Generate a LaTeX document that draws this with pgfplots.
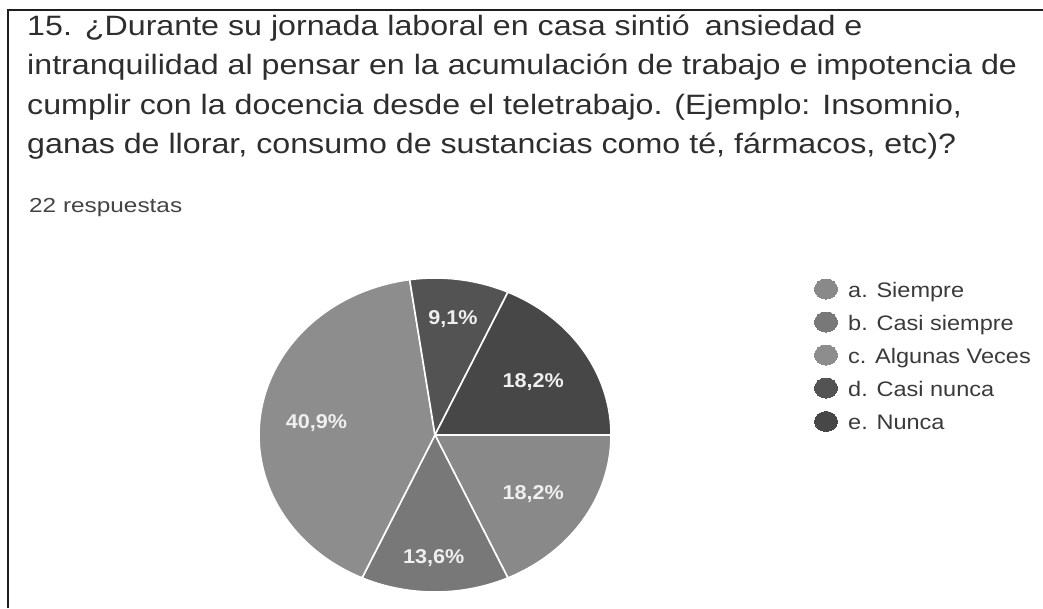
\documentclass[border=0pt]{standalone}
\usepackage{fontspec}
\setmainfont{Liberation Sans}[FakeStretch=1.12]
\newfontfamily\titlefont{Liberation Sans}[FakeStretch=1.15]
\newfontfamily\subfont{Liberation Sans}[FakeStretch=1.2]
\newfontfamily\labfont{Liberation Sans}[FakeStretch=1.08]
\usepackage{pgfplots}
\pgfplotsset{compat=1.18}
\definecolor{ca}{HTML}{898989}
\definecolor{cb}{HTML}{787878}
\definecolor{cc}{HTML}{8D8D8D}
\definecolor{cd}{HTML}{535353}
\definecolor{ce}{HTML}{474747}
\definecolor{titlecol}{HTML}{2E2E2E}
\definecolor{subcol}{HTML}{444444}
\definecolor{legcol}{HTML}{3A3A3A}
\definecolor{labcol}{HTML}{EFEFEF}
\definecolor{framecol}{HTML}{1E1E1E}
% percentages of the five answers (22 respuestas)
\def\pa{18.2}\def\pb{13.6}\def\pc{40.9}\def\pd{9.1}\def\pe{18.2}
\pgfmathsetmacro\aa{3.6*\pa}
\pgfmathsetmacro\ab{3.6*(\pa+\pb)}
\pgfmathsetmacro\ac{3.6*(\pa+\pb+\pc)}
\pgfmathsetmacro\ad{3.6*(\pa+\pb+\pc+\pd)}
\pgfmathsetmacro\ae{3.6*(\pa+\pb+\pc+\pd+\pe)}
\begin{document}
\begin{tikzpicture}
\begin{axis}[
  width=1043pt, height=608pt, scale only axis, hide axis,
  xmin=0, xmax=1043, ymin=0, ymax=608, y dir=reverse, clip=false,
  slice/.style={draw=white, line width=1.6pt, samples=80},
  legmark/.style={only marks, color=#1, mark=*, mark size=10pt, mark options={xscale=1.15, draw=#1, fill=#1, line width=0pt}},
]
\addplot[slice, fill=ca, domain=-\aa:0] ({435+176*cos(x)},{435-157*sin(x)}) -- (axis cs:435,435) -- cycle;
\addplot[slice, fill=cb, domain=-\ab:-\aa] ({435+176*cos(x)},{435-157*sin(x)}) -- (axis cs:435,435) -- cycle;
\addplot[slice, fill=cc, domain=-\ac:-\ab] ({435+176*cos(x)},{435-157*sin(x)}) -- (axis cs:435,435) -- cycle;
\addplot[slice, fill=cd, domain=-\ad:-\ac] ({435+176*cos(x)},{435-157*sin(x)}) -- (axis cs:435,435) -- cycle;
\addplot[slice, fill=ce, domain=-\ae:-\ad] ({435+176*cos(x)},{435-157*sin(x)}) -- (axis cs:435,435) -- cycle;
% legend markers
\addplot[legmark=ca] coordinates {(826,289)};
\addplot[legmark=cb] coordinates {(826,322)};
\addplot[legmark=cc] coordinates {(826,355)};
\addplot[legmark=cd] coordinates {(826,388)};
\addplot[legmark=ce] coordinates {(826,421.5)};
\begin{scope}[every node/.style={anchor=base west, inner sep=0pt, text=legcol, font=\fontsize{21}{25}\selectfont}]
\node at (axis cs:848,297) {a. Siempre};
\node at (axis cs:848,330) {b. Casi siempre};
\node at (axis cs:848,363) {c. Algunas Veces};
\node at (axis cs:848,396) {d. Casi nunca};
\node at (axis cs:848,429.5) {e. Nunca};
\end{scope}
% slice labels
\begin{scope}[every node/.style={anchor=base, text=labcol, font=\labfont\bfseries\fontsize{20}{22}\selectfont, inner sep=0pt}]
\node at (axis cs:453,324) {9,1\%};
\node at (axis cs:533.3,387) {18,2\%};
\node at (axis cs:316.5,428.5) {40,9\%};
\node at (axis cs:533.3,499) {18,2\%};
\node at (axis cs:433.8,563.5) {13,6\%};
\end{scope}
% title
\begin{scope}[every node/.style={anchor=base west, inner sep=0pt, text=titlecol, font=\titlefont\fontsize{28}{34}\selectfont}]
\node at (axis cs:27,35) {15.\hspace{13pt}¿Durante su jornada laboral en casa sintió\hspace{15pt}ansiedad e};
\node at (axis cs:27,74.5) {intranquilidad al pensar en la acumulación de trabajo e impotencia de};
\node at (axis cs:27,114) {cumplir con la docencia desde el teletrabajo. (Ejemplo: Insomnio,};
\node at (axis cs:27,153.5) {ganas de llorar, consumo de sustancias como té, fármacos, etc)?};
\end{scope}
\node[anchor=base west, inner sep=0pt, text=subcol, font=\subfont\fontsize{20.3}{24}\selectfont] at (axis cs:29,212.5) {22 respuestas};
% frame
\draw[line width=2.2pt, framecol] (axis cs:8,608) -- (axis cs:8,10) -- (axis cs:1043,10);
\end{axis}
\pgfresetboundingbox
\useasboundingbox (0,0) rectangle (1043pt,608pt);
\end{tikzpicture}
\end{document}
